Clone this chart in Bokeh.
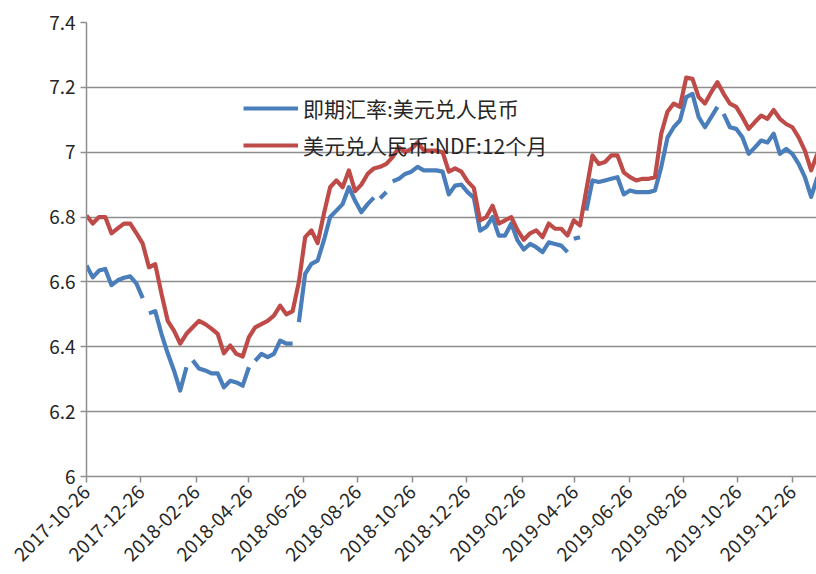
import math
import pandas as pd
from bokeh.plotting import figure
from bokeh.models import Range1d, FixedTicker, CustomJSTickFormatter, Legend, LegendItem
from bokeh.embed import file_html
from bokeh.resources import INLINE

# ---- data (weekly readings from the picture) ----
start_date = "2017-10-26"
spot_label = "即期汇率:美元兑人民币"
ndf_label = "美元兑人民币:NDF:12个月"

spot = [6.651, 6.614, 6.635, 6.640, 6.590, 6.605, 6.613, 6.617, 6.595, 6.550,
        6.503, 6.510, 6.440, 6.380, 6.327, 6.265, 6.337, 6.358, 6.333, 6.327,
        6.318, 6.318, 6.275, 6.295, 6.290, 6.280, 6.337, 6.357, 6.378, 6.368,
        6.378, 6.419, 6.410, 6.410, 6.476, 6.625, 6.656, 6.666, 6.728, 6.800,
        6.820, 6.840, 6.892, 6.850, 6.815, 6.840, 6.860, 6.858, 6.877, 6.910,
        6.918, 6.933, 6.940, 6.955, 6.944, 6.944, 6.944, 6.940, 6.870, 6.897,
        6.900, 6.877, 6.860, 6.758, 6.770, 6.800, 6.743, 6.743, 6.780, 6.728,
        6.700, 6.717, 6.707, 6.692, 6.722, 6.717, 6.712, 6.692, 6.733, 6.738,
        6.820, 6.913, 6.908, 6.913, 6.918, 6.923, 6.870, 6.882, 6.877, 6.877,
        6.877, 6.882, 6.954, 7.045, 7.077, 7.098, 7.170, 7.180, 7.108, 7.077,
        7.108, 7.140, 7.118, 7.077, 7.072, 7.046, 6.995, 7.015, 7.036, 7.030,
        7.057, 6.995, 7.010, 6.995, 6.964, 6.923, 6.862, 6.923]

ndf = [6.805, 6.780, 6.800, 6.800, 6.750, 6.765, 6.780, 6.780, 6.750, 6.718,
       6.645, 6.655, 6.564, 6.480, 6.450, 6.410, 6.440, 6.460, 6.480, 6.470,
       6.456, 6.440, 6.380, 6.404, 6.378, 6.370, 6.430, 6.460, 6.470, 6.480,
       6.496, 6.527, 6.500, 6.510, 6.600, 6.738, 6.759, 6.720, 6.810, 6.892,
       6.913, 6.892, 6.944, 6.880, 6.900, 6.933, 6.950, 6.955, 6.964, 6.985,
       7.015, 7.000, 7.010, 7.030, 7.005, 7.005, 7.005, 7.000, 6.940, 6.950,
       6.940, 6.910, 6.890, 6.790, 6.800, 6.835, 6.780, 6.790, 6.800, 6.760,
       6.730, 6.750, 6.759, 6.738, 6.780, 6.764, 6.764, 6.743, 6.790, 6.774,
       6.882, 6.990, 6.964, 6.970, 6.990, 6.990, 6.938, 6.923, 6.913, 6.918,
       6.918, 6.923, 7.057, 7.125, 7.150, 7.140, 7.230, 7.226, 7.170, 7.150,
       7.185, 7.216, 7.180, 7.150, 7.140, 7.108, 7.072, 7.093, 7.113, 7.103,
       7.130, 7.103, 7.087, 7.077, 7.046, 7.005, 6.944, 6.995]

# indices after which the spot line has a missing stretch
spot_breaks = [9, 16, 26, 33, 46, 48, 77, 79, 101]

x_ticks = ["2017-10-26", "2017-12-26", "2018-02-26", "2018-04-26", "2018-06-26",
           "2018-08-26", "2018-10-26", "2018-12-26", "2019-02-26", "2019-04-26",
           "2019-06-26", "2019-08-26", "2019-10-26", "2019-12-26"]
y_ticks = [6.0, 6.2, 6.4, 6.6, 6.8, 7.0, 7.2, 7.4]
x_end = "2020-01-22"

dates = pd.date_range(start_date, periods=len(spot), freq="7D")

# ---- styles ----
BLUE = "#4A7EBB"
RED = "#BE4B48"
GRID = "#8E8E8E"
TXT = "#262626"
FONT = "Noto Sans CJK SC"

p = figure(width=816, height=574, x_axis_type="datetime",
           x_range=Range1d(pd.Timestamp(start_date), pd.Timestamp(x_end)),
           y_range=Range1d(y_ticks[0], y_ticks[-1]),
           output_backend="svg", toolbar_location=None,
           min_border_left=86, min_border_right=0,
           min_border_top=22, min_border_bottom=98)
p.outline_line_color = None
p.background_fill_color = "white"
p.border_fill_color = "white"

# spot line split into segments at missing stretches
xs, ys = [], []
prev = 0
for b in spot_breaks + [len(spot) - 1]:
    xs.append([pd.Timestamp(d) for d in dates[prev:b + 1]])
    ys.append(spot[prev:b + 1])
    prev = b + 1

r_spot = p.multi_line(xs, ys, line_color=BLUE, line_width=4.2, line_join="round")
r_ndf = p.line(dates, ndf, line_color=RED, line_width=4.2, line_join="round")

# axes
tick_ms = [pd.Timestamp(t).value / 1e6 for t in x_ticks]
p.xaxis.ticker = FixedTicker(ticks=tick_ms)
p.xaxis.formatter = CustomJSTickFormatter(code="return new Date(tick).toISOString().slice(0, 10);")
p.yaxis.ticker = FixedTicker(ticks=y_ticks)
p.yaxis.formatter = CustomJSTickFormatter(code="return tick.toFixed(1).replace(/\\.0$/, '');")

for ax in (p.xaxis, p.yaxis):
    ax.axis_line_color = GRID
    ax.axis_line_width = 1.5
    ax.major_tick_line_color = GRID
    ax.major_tick_line_width = 1.5
    ax.major_tick_out = 6
    ax.major_tick_in = 0
    ax.minor_tick_out = 0
    ax.minor_tick_in = 0
    ax.major_label_text_font = FONT
    ax.major_label_text_font_size = "19px"
    ax.major_label_text_color = TXT

p.xaxis.major_label_orientation = math.pi / 4
p.xaxis.major_label_standoff = 6
p.yaxis.major_label_standoff = 5

p.xgrid.grid_line_color = None
p.ygrid.grid_line_color = GRID
p.ygrid.grid_line_width = 1.5

legend = Legend(items=[LegendItem(label=spot_label, renderers=[r_spot]),
                       LegendItem(label=ndf_label, renderers=[r_ndf])],
                location=(157, 316), orientation="vertical",
                glyph_width=55, glyph_height=30, label_height=30,
                label_standoff=5, spacing=7, padding=0, margin=0,
                border_line_color=None, background_fill_alpha=0,
                label_text_font=FONT, label_text_font_size="21px",
                label_text_color=TXT)
p.add_layout(legend)

open("out.html", "w").write(file_html(p, INLINE))
